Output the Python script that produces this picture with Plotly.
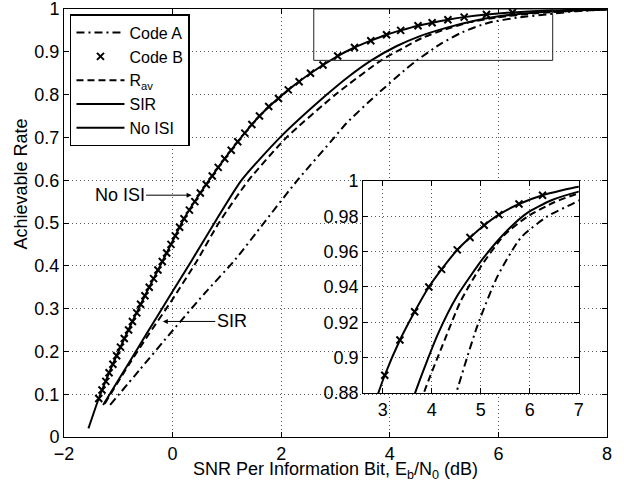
import plotly.graph_objects as go

# ---- data ----
noisi_x = [-1.55, -1.36, -1.17, -0.96, -0.74, -0.51, -0.27, -0.03, 0.21, 0.51, 0.84, 1.20, 1.60,
           2.13, 2.54, 3.04, 3.35, 3.65, 3.94, 4.20, 4.52, 4.78, 5.07, 5.37, 5.78, 6.26, 7.00, 8.00]
noisi_y = [0.02, 0.09, 0.15, 0.21, 0.27, 0.33, 0.39, 0.45, 0.51, 0.57, 0.63, 0.69, 0.75,
           0.811, 0.850, 0.890, 0.910, 0.926, 0.940, 0.950, 0.961, 0.968, 0.975, 0.981, 0.987, 0.992, 0.9968, 0.9995]

codeB_x = [-1.36, -1.30, -1.23, -1.17, -1.10, -1.03, -0.96, -0.89, -0.81, -0.74, -0.66, -0.59, -0.51,
           -0.43, -0.35, -0.27, -0.19, -0.11, -0.03, 0.05, 0.13, 0.21, 0.31, 0.41, 0.51, 0.62, 0.73,
           0.84, 0.96, 1.08, 1.20, 1.33, 1.46, 1.60, 1.77, 1.95, 2.13, 2.33, 2.54, 2.77, 3.04, 3.35,
           3.65, 3.94, 4.20, 4.52, 4.78, 5.07, 5.37, 5.78, 6.26]
codeB_y = [0.09, 0.11, 0.13, 0.15, 0.17, 0.19, 0.21, 0.23, 0.25, 0.27, 0.29, 0.31, 0.33,
           0.35, 0.37, 0.39, 0.41, 0.43, 0.45, 0.47, 0.49, 0.51, 0.53, 0.55, 0.57, 0.59, 0.61,
           0.63, 0.65, 0.67, 0.69, 0.71, 0.73, 0.75, 0.772, 0.791, 0.811, 0.830, 0.850, 0.869, 0.890, 0.910,
           0.926, 0.940, 0.950, 0.961, 0.968, 0.975, 0.981, 0.987, 0.992]

sir_x = [-1.28, -0.80, -0.48, -0.05, 0.35, 0.77, 1.27, 1.98, 2.84, 3.25, 3.66, 4.12, 4.52, 5.07,
         5.54, 5.95, 6.43, 7.00, 7.50, 8.00]
sir_y = [0.075, 0.174, 0.241, 0.330, 0.412, 0.50, 0.60, 0.70, 0.80, 0.843, 0.88, 0.913, 0.935, 0.957,
         0.972, 0.982, 0.989, 0.994, 0.997, 0.999]

rav_x = [-1.25, -0.80, -0.45, 0.00, 0.45, 0.85, 1.40, 2.10, 3.00, 3.84, 4.22, 4.59, 5.00, 5.48,
         5.95, 6.50, 7.00, 7.50, 8.00]
rav_y = [0.078, 0.170, 0.238, 0.322, 0.412, 0.50, 0.60, 0.70, 0.80, 0.88, 0.907, 0.932, 0.9515, 0.9694,
         0.9798, 0.988, 0.993, 0.996, 0.999]

codeA_x = [-1.15, -0.60, 0.01, 0.60, 1.15, 1.68, 2.30, 2.98, 3.20, 3.76, 4.31, 4.50, 4.93, 5.34,
           5.82, 6.36, 6.90, 7.44, 8.00]
codeA_y = [0.075, 0.158, 0.25, 0.337, 0.414, 0.50, 0.60, 0.70, 0.733, 0.80, 0.861, 0.88, 0.918, 0.946,
           0.968, 0.980, 0.9875, 0.995, 0.999]

main_xticks = [-2, 0, 2, 4, 6, 8]
main_xtext = ["\u22122", "0", "2", "4", "6", "8"]
main_yticks = [0, 0.1, 0.2, 0.3, 0.4, 0.5, 0.6, 0.7, 0.8, 0.9, 1]
main_ytext = ["0", "0.1", "0.2", "0.3", "0.4", "0.5", "0.6", "0.7", "0.8", "0.9", "1"]
inset_xticks = [3, 4, 5, 6, 7]
inset_xtext = ["3", "4", "5", "6", "7"]
inset_yticks = [0.88, 0.90, 0.92, 0.94, 0.96, 0.98, 1.0]
inset_ytext = ["0.88", "0.9", "0.92", "0.94", "0.96", "0.98", "1"]

main_xrange = [-2, 8]
main_yrange = [0, 1]
inset_xrange = [2.6, 7]
inset_yrange = [0.88, 1]
inset_xdom = [0.551, 0.948]
inset_ydom = [0.103, 0.598]

FONT = "Liberation Sans, Arial, Helvetica, sans-serif"
LW = 2
dash_A = "8px,4px,2px,4px"
dash_R = "7px,4px"

fig = go.Figure()

for ax_x, ax_y, show in (("x", "y", True), ("x2", "y2", False)):
    fig.add_trace(go.Scatter(x=codeA_x, y=codeA_y, mode="lines", name="Code A",
                             line=dict(color="black", width=LW, dash=dash_A, shape="spline", smoothing=0.6),
                             xaxis=ax_x, yaxis=ax_y, showlegend=show, legendrank=1))
    fig.add_trace(go.Scatter(x=rav_x, y=rav_y, mode="lines", name="R<sub>av</sub>",
                             line=dict(color="black", width=LW, dash=dash_R, shape="spline", smoothing=0.6),
                             xaxis=ax_x, yaxis=ax_y, showlegend=show, legendrank=3))
    fig.add_trace(go.Scatter(x=sir_x, y=sir_y, mode="lines", name="SIR",
                             line=dict(color="black", width=LW, shape="spline", smoothing=0.6),
                             xaxis=ax_x, yaxis=ax_y, showlegend=show, legendrank=4))
    fig.add_trace(go.Scatter(x=noisi_x, y=noisi_y, mode="lines", name="No ISI",
                             line=dict(color="black", width=LW, shape="spline", smoothing=0.6),
                             xaxis=ax_x, yaxis=ax_y, showlegend=show, legendrank=5))
    fig.add_trace(go.Scatter(x=codeB_x, y=codeB_y, mode="markers", name="Code B",
                             marker=dict(symbol="x-thin", size=7, color="black",
                                         line=dict(width=2, color="black")),
                             xaxis=ax_x, yaxis=ax_y, showlegend=show, legendrank=2))

axis_common = dict(showline=True, linecolor="black", linewidth=1, mirror="ticks",
                   ticks="inside", ticklen=5, tickcolor="black", showgrid=True,
                   gridcolor="#555", gridwidth=1, griddash="1px,3px", zeroline=False,
                   automargin=False, ticklabeloverflow="allow",
                   tickfont=dict(family=FONT, size=18, color="black"))

fig.update_layout(
    width=624, height=482,
    margin=dict(l=64, r=17, t=9, b=45),
    paper_bgcolor="white", plot_bgcolor="white",
    font=dict(family=FONT, size=18, color="black"),
    showlegend=True,
    legend=dict(x=0.011, y=0.988, xanchor="left", yanchor="top",
                bgcolor="white", bordercolor="black", borderwidth=1.5,
                font=dict(family=FONT, size=16, color="black"),
                tracegroupgap=0, itemwidth=48),
    xaxis=dict(range=main_xrange, tickvals=main_xticks, ticktext=main_xtext,
               title=dict(text="SNR Per Information Bit, E<sub>b</sub>/N<sub>0</sub> (dB)",
                          standoff=2, font=dict(family=FONT, size=18, color="black")),
               **axis_common),
    yaxis=dict(range=main_yrange, tickvals=main_yticks, ticktext=main_ytext, **axis_common),
    xaxis2=dict(domain=inset_xdom, anchor="y2", range=inset_xrange,
                tickvals=inset_xticks, ticktext=inset_xtext, **axis_common),
    yaxis2=dict(domain=inset_ydom, anchor="x2", range=inset_yrange,
                tickvals=inset_yticks, ticktext=inset_ytext, **axis_common),
)

# white backing for the inset (hides main grid under it)
mx0 = main_xrange[0] + (main_xrange[1] - main_xrange[0]) * inset_xdom[0]
mx1 = main_xrange[0] + (main_xrange[1] - main_xrange[0]) * inset_xdom[1]
my0 = main_yrange[0] + (main_yrange[1] - main_yrange[0]) * inset_ydom[0]
my1 = main_yrange[0] + (main_yrange[1] - main_yrange[0]) * inset_ydom[1]
fig.add_shape(type="rect", xref="x", yref="y", x0=mx0, x1=mx1, y0=my0, y1=my1,
              fillcolor="white", line=dict(width=0), layer="between")

# zoom rectangle on main plot
fig.add_shape(type="rect", xref="x", yref="y", x0=inset_xrange[0], x1=inset_xrange[1],
              y0=inset_yrange[0], y1=inset_yrange[1], line=dict(color="#222", width=1),
              layer="above")

fig.add_annotation(text="Achievable Rate", xref="paper", yref="paper", x=-0.079, y=0.59,
                   textangle=-90, showarrow=False, xanchor="center", yanchor="middle",
                   font=dict(family=FONT, size=18, color="black"))
fig.add_annotation(text="No ISI", xref="x", yref="y", x=0.35, y=0.565, ax=-72, ay=0,
                   showarrow=True, arrowhead=2, arrowsize=1, arrowwidth=1, arrowcolor="black",
                   font=dict(family=FONT, size=18, color="black"))
fig.add_annotation(text="SIR", xref="x", yref="y", x=-0.18, y=0.27, ax=69, ay=0,
                   showarrow=True, arrowhead=2, arrowsize=1, arrowwidth=1, arrowcolor="black",
                   font=dict(family=FONT, size=18, color="black"))

fig.write_html("out.html", config={"displayModeBar": False},
               post_script="document.body.style.margin='0';document.body.style.overflow='hidden';")
